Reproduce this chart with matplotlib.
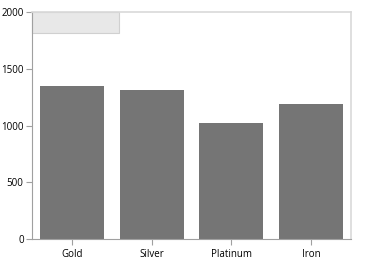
import matplotlib
matplotlib.use("Agg")
import matplotlib.pyplot as plt
from matplotlib.patches import Rectangle

metals = ["Gold", "Silver", "Platinum", "Iron"]
values = [1350, 1310, 1020, 1190]
yticks = [0, 500, 1000, 1500, 2000]

plt.rcParams["font.family"] = ["Open Sans", "DejaVu Sans"]

fig = plt.figure(figsize=(3.65, 2.62), dpi=100, facecolor="white")
ax = fig.add_axes([32 / 365, 1 - 239 / 262, 319 / 365, 227 / 262])

x = list(range(len(metals)))
ax.bar(x, values, width=0.8, color="#757575")

ax.set_xlim(-0.5, len(metals) - 0.5)
ax.set_ylim(0, 2000)
ax.set_yticks(yticks)
ax.set_xticks(x)
ax.set_xticklabels(metals)

for side in ["left", "bottom"]:
    ax.spines[side].set_color("#a0a0a0")
    ax.spines[side].set_linewidth(0.8)
for side in ["top", "right"]:
    ax.spines[side].set_color("#d9d9d9")
    ax.spines[side].set_linewidth(1.2)

ax.tick_params(axis="both", colors="#a0a0a0", labelcolor="black",
               labelsize=7, length=4, width=0.8, pad=2)
ax.tick_params(axis="x", pad=3.5)

# empty legend box
ax.add_patch(Rectangle((0, 1 - 21 / 227), 87 / 319, 21 / 227,
                       transform=ax.transAxes, facecolor="#e8e8e8",
                       edgecolor="#d0d0d0", linewidth=0.8, clip_on=False))

fig.savefig("out.png", dpi=100)
